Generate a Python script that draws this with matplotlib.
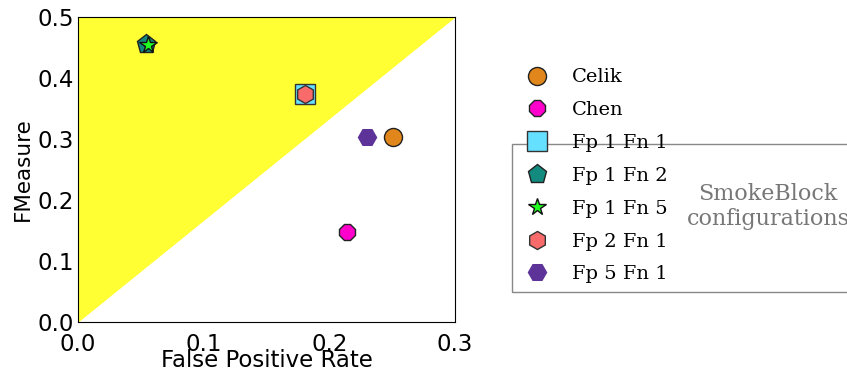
import matplotlib.pyplot as plt
from matplotlib.patches import Rectangle

# reference methods
base_names = ["Celik", "Chen"]
base_fpr = [0.251, 0.214]
base_fm = [0.304, 0.147]

# SmokeBlock configurations
cfg_names = ["Fp 1 Fn 1", "Fp 1 Fn 2", "Fp 1 Fn 5", "Fp 2 Fn 1", "Fp 5 Fn 1"]
cfg_fpr = [0.181, 0.054, 0.056, 0.181, 0.230]
cfg_fm = [0.374, 0.456, 0.454, 0.374, 0.304]

xlim = [0.0, 0.3]
ylim = [0.0, 0.5]

fig = plt.figure(figsize=(8.47, 3.76), dpi=100)
ax = fig.add_axes([0.0921, 0.1436, 0.4451, 0.8112])

# yellow region above the diagonal
ax.fill_between(xlim, ylim, [ylim[1], ylim[1]], color="#ffff33", linewidth=0, zorder=0)

base_style = [("o", "#e0861a", "#222222", 13), ("8", "#ff00cc", "#222222", 13)]
cfg_style = [("s", "#66e0ff", "#333333", 14),
             ("p", "#138a7e", "#222222", 14),
             ("*", "#22ff22", "#111111", 13),
             ("h", "#f96b6b", "#333333", 13),
             ("H", "#5e3399", "#5e3399", 13)]

h1 = []
for i in range(len(base_names)):
    m, fc, ec, s = base_style[i]
    h1.append(ax.plot(base_fpr[i], base_fm[i], linestyle="none", marker=m, markersize=s,
                      markerfacecolor=fc, markeredgecolor=ec, markeredgewidth=1,
                      label=base_names[i], zorder=3)[0])
h2 = []
for i in range(len(cfg_names)):
    m, fc, ec, s = cfg_style[i]
    h2.append(ax.plot(cfg_fpr[i], cfg_fm[i], linestyle="none", marker=m, markersize=s,
                      markerfacecolor=fc, markeredgecolor=ec, markeredgewidth=1,
                      label=cfg_names[i], zorder=3)[0])

ax.set_xlim(xlim)
ax.set_ylim(ylim)
ax.set_xticks([0.0, 0.1, 0.2, 0.3])
ax.set_yticks([0.0, 0.1, 0.2, 0.3, 0.4, 0.5])
ax.tick_params(length=0, labelsize=16.5)
ax.tick_params(axis="x", pad=8)
ax.tick_params(axis="y", pad=3)
ax.set_xlabel("False Positive Rate", fontsize=16.5, labelpad=-5)
ax.set_ylabel("FMeasure", fontsize=15.5, labelpad=3)

serif = {"family": "DejaVu Serif", "size": 14}
leg1 = fig.legend(handles=h1, loc="upper left", bbox_to_anchor=(0.6, 0.844),
                  frameon=False, prop=serif, handletextpad=0.8, labelspacing=0.76,
                  borderpad=0)
leg2 = fig.legend(handles=h2, loc="upper left", bbox_to_anchor=(0.6, 0.669),
                  frameon=False, prop=serif, handletextpad=0.8, labelspacing=0.76,
                  borderpad=0)

fig.patches.append(Rectangle((512 / 847, 1 - 292 / 376), 0.5, 148 / 376,
                             transform=fig.transFigure, fill=False,
                             edgecolor="#888888", linewidth=1))
fig.text(0.907, 0.45, "SmokeBlock\nconfigurations", ha="center", va="center",
         color="#777777", fontsize=16, family="DejaVu Serif", linespacing=1.2)

fig.savefig("out.png", dpi=100)
